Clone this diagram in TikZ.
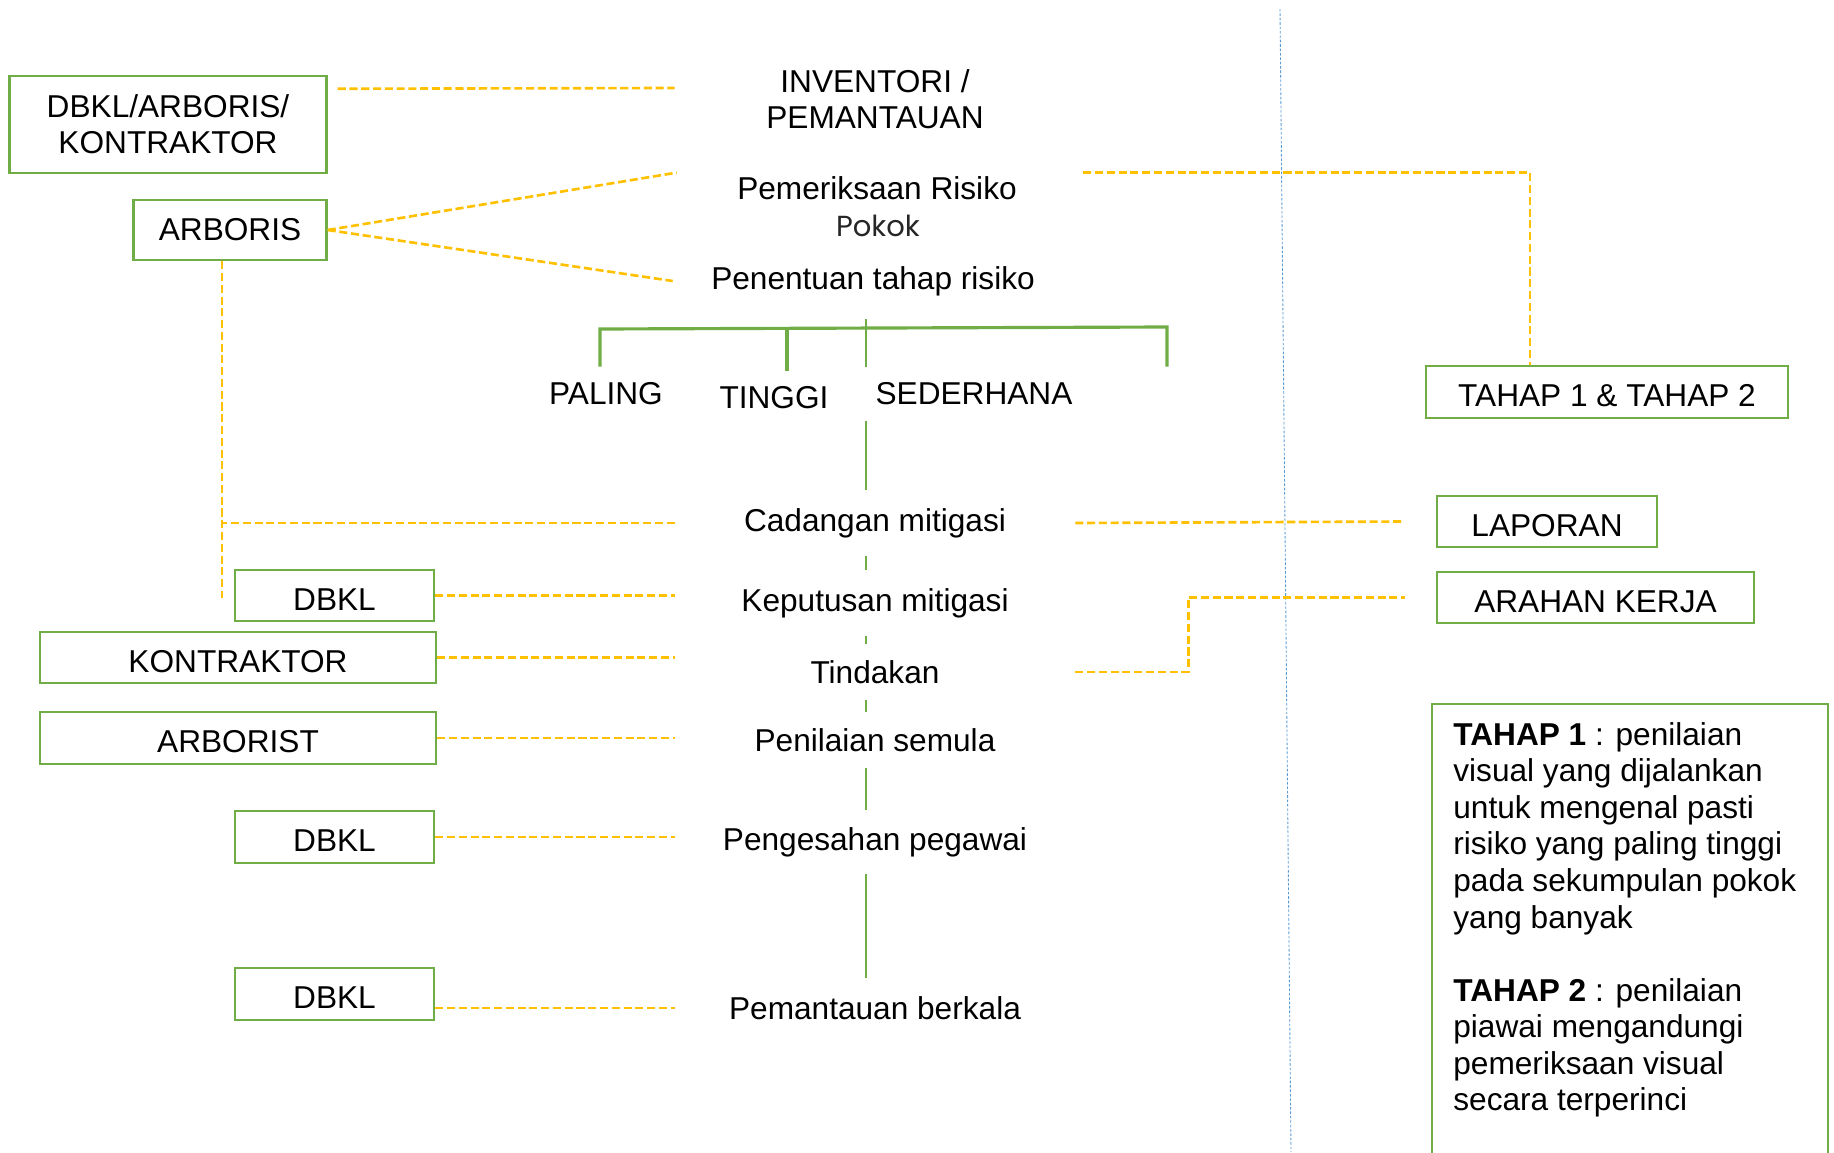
\documentclass[tikz,border=0pt]{standalone}
\usepackage{fontspec}
\setmainfont{Liberation Sans}
\newfontfamily\pokokfont{Poppins}
\usepackage{xcolor}
\definecolor{ofgreen}{RGB}{112,173,71}
\definecolor{ofgold}{RGB}{255,192,0}
\definecolor{ofblue}{RGB}{91,155,213}
\usepackage{tikz}
\usetikzlibrary{calc}
\newcommand\bigtxt{\fontsize{18}{20.5}\selectfont}

\begin{document}
\begin{tikzpicture}[x=0.02cm, y=-0.02cm,
  actor/.style={draw=ofgreen, line width=1.4pt, minimum height=1.03cm,
                inner sep=0pt, align=center, font=\bigtxt},
  tag/.style={actor, text height=16.6pt, text depth=0pt},
  stage/.style={minimum width=8cm, inner sep=0pt, align=center, font=\bigtxt},
  lvl/.style={inner sep=0pt, minimum height=1.08cm, font=\bigtxt},
  link/.style={draw=ofgold, line width=1.5pt, dash pattern=on 4.6pt off 2.1pt},
  spine/.style={draw=ofgreen, line width=1.5pt},
  branch/.style={draw=ofgreen, line width=1.8pt}
]
\useasboundingbox (0,0) rectangle (1834,1152);
\clip (0,0) rectangle (1834,1152);

% divider
\draw[ofblue, line width=0.5pt, dash pattern=on 1.5pt off 1pt] (1280,9) -- (1291,1152);

% process column
\node[stage] (inv) at (875,99.5) {INVENTORI /\\PEMANTAUAN};
\node[stage, minimum height=0.6cm] (pem) at (877,188) {Pemeriksaan Risiko};
\node[font=\pokokfont\fontsize{16.5}{18}\selectfont, text=black!85, inner sep=0pt] (pok) at (878,226) {Pokok};
\node[stage, minimum height=1.5cm] (pen) at (873,281) {Penentuan tahap risiko};
\node[lvl] (pal) at (606,394) {PALING};
\node[lvl] (tng) at (774,398) {TINGGI};
\node[lvl] (sed) at (974,394) {SEDERHANA};
\node[stage, minimum height=1.32cm] (cad) at (875,523) {Cadangan mitigasi};
\node[stage, minimum height=1.32cm] (kep) at (875,603) {Keputusan mitigasi};
\node[stage, minimum height=1.12cm] (tin) at (875,672) {Tindakan};
\node[stage, minimum height=1.12cm] (pnl) at (875,740) {Penilaian semula};
\node[stage, minimum height=1.28cm] (pgs) at (875,842) {Pengesahan pegawai};
\node[stage, minimum height=1.2cm] (pmb) at (875,1008) {Pemantauan berkala};

% spine and levels
\coordinate (spn) at (866,0);
\coordinate (barL) at (600,329);
\coordinate (barT) at (787,329);
\coordinate (barR) at (1167,327);
\draw[spine] (pen.south -| spn) -- (sed.north -| spn);
\draw[spine] (sed.south -| spn) -- (cad.north -| spn);
\foreach \a/\b in {cad/kep, kep/tin, tin/pnl, pnl/pgs, pgs/pmb}
  \draw[spine] (\a.south -| spn) -- (\b.north -| spn);
\draw[branch] (pal.north -| barL) -- (barL) -- (barR) -- (barR |- sed.north);
\draw[branch] (barT) -- (barT |- tng.north);

% left actors
\node[actor, minimum width=6.34cm, minimum height=1.94cm] (dak) at (168,124.5) {DBKL/ARBORIS/\\KONTRAKTOR};
\node[actor, minimum width=3.86cm, minimum height=1.2cm] (arb) at (230,230) {ARBORIS};
\node[tag, minimum width=3.98cm] (db1) at (334.5,595.5) {DBKL};
\node[tag, minimum width=7.92cm] (kon) at (238,657.5) {KONTRAKTOR};
\node[tag, minimum width=7.92cm] (ars) at (238,738) {ARBORIST};
\node[tag, minimum width=3.98cm] (db2) at (334.5,837) {DBKL};
\node[tag, minimum width=3.98cm] (db3) at (334.5,994) {DBKL};

% right outputs
\node[tag, minimum width=7.24cm] (tah) at (1607,392) {TAHAP 1 \& TAHAP 2};
\node[tag, minimum width=4.4cm] (lap) at (1547,521.5) {LAPORAN};
\node[tag, minimum width=6.34cm] (arh) at (1595.5,597.5) {ARAHAN KERJA};

% note
\draw[ofgreen, line width=1.4pt] (1432,1170) |- (1828,704) -- (1828,1170);
\node[anchor=north west, inner sep=0pt, align=left,
      font=\fontsize{18}{20.8}\selectfont] (note) at (1453,722)
  {\textbf{TAHAP 1} : penilaian\\visual yang dijalankan\\untuk mengenal pasti\\risiko yang paling tinggi\\pada sekumpulan pokok\\yang banyak\\[20.8pt]\textbf{TAHAP 2} : penilaian\\piawai mengandungi\\pemeriksaan visual\\secara terperinci};

% links
\coordinate (arbft) at (222,598);
\draw[link, shorten <=0.2cm] ([yshift=-0.28cm]dak.north east) -- ([yshift=0.23cm]inv.west);
\draw[link] (arb.east) -- (pem.north west);
\draw[link] (arb.east) -- (pen.west);
\draw[link] (arb.south -| arbft) -- (arbft);
\draw[link] (cad.west) -- (cad.west -| arbft);
\draw[link] (db1.east) -- (db1.east -| kep.west);
\draw[link] (kon.east) -- (kon.east -| tin.west);
\draw[link] (ars.east) -- (ars.east -| pnl.west);
\draw[link] (db2.east) -- (db2.east -| pgs.west);
\draw[link] (pmb.west -| db3.east) -- (pmb.west);
\draw[link, shorten <=0.12cm] (pem.north east) -| ([xshift=-1.54cm]tah.north);
\draw[link] (cad.east) -- ([xshift=-0.62cm]lap.west);
\draw[link] (tin.east) -- ++(113,0) |- ([xshift=-0.62cm]arh.west);
\end{tikzpicture}
\end{document}
